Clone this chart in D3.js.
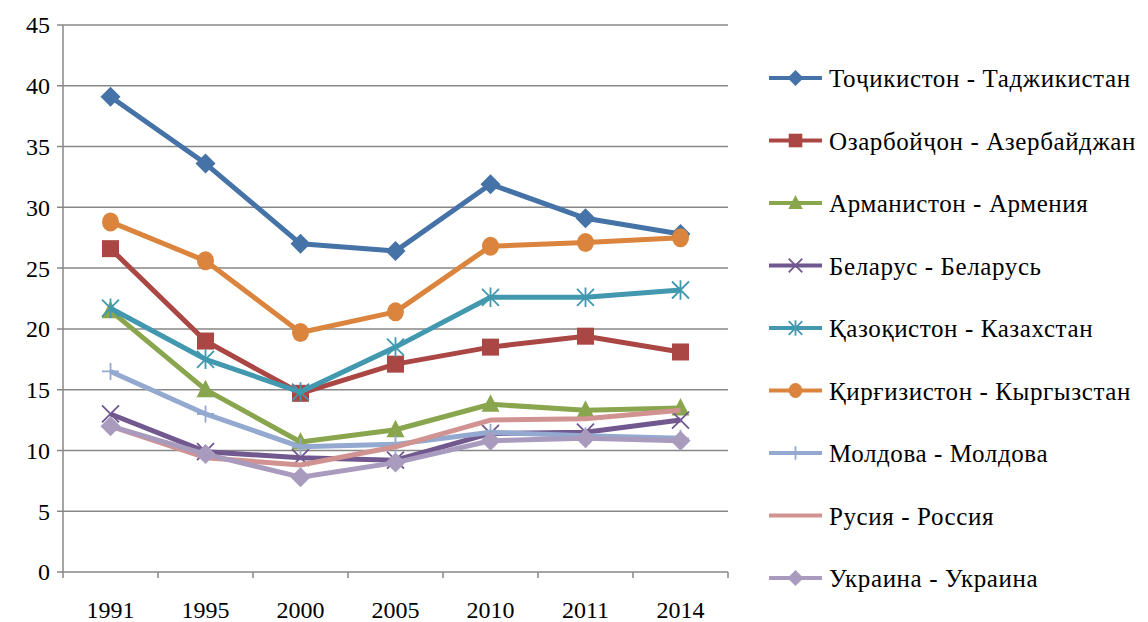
<!DOCTYPE html>
<html>
<head>
<meta charset="utf-8">
<script src="https://cdn.jsdelivr.net/npm/d3@7"></script>
<style>
  body { margin: 0; background: #fff; }
  svg text { font-family: "Liberation Serif", "Times New Roman", Times, "DejaVu Serif", serif; }
</style>
</head>
<body>
<svg id="chart" width="1148" height="622"></svg>
<script>
let years = ["1991", "1995", "2000", "2005", "2010", "2011", "2014"];
let yTicks = [0, 5, 10, 15, 20, 25, 30, 35, 40, 45];

let tajikistan = [39.1, 33.6, 27.0, 26.4, 31.9, 29.1, 27.8];
let azerbaijan = [26.6, 19.0, 14.7, 17.1, 18.5, 19.4, 18.1];
let armenia = [21.5, 15.0, 10.7, 11.7, 13.8, 13.3, 13.5];
let belarus = [13.0, 9.9, 9.4, 9.2, 11.4, 11.5, 12.5];
let kazakhstan = [21.7, 17.5, 14.8, 18.5, 22.6, 22.6, 23.2];
let kyrgyzstan = [28.8, 25.6, 19.7, 21.4, 26.8, 27.1, 27.5];
let moldova = [16.5, 13.0, 10.3, 10.5, 11.5, 11.2, 11.0];
let russia = [12.0, 9.4, 8.8, 10.3, 12.5, 12.6, 13.3];
let ukraine = [12.0, 9.7, 7.8, 9.0, 10.8, 11.0, 10.8];

let seriesNames = [
  "Тоҷикистон - Таджикистан",
  "Озарбойҷон - Азербайджан",
  "Арманистон - Армения",
  "Беларус - Беларусь",
  "Қазоқистон - Казахстан",
  "Қирғизистон - Кыргызстан",
  "Молдова - Молдова",
  "Русия - Россия",
  "Украина - Украина"
];
let seriesValues = [tajikistan, azerbaijan, armenia, belarus, kazakhstan, kyrgyzstan, moldova, russia, ukraine];
let seriesColors = ["#4572A7", "#AA4643", "#89A54E", "#71588F", "#4198AF", "#DB843D", "#93A9CF", "#D19392", "#A99BBD"];
let seriesMarkers = ["diamond", "square", "triangle", "x", "star", "circle", "plus", "none", "diamond"];

let svg = d3.select("#chart");
let plotLeft = 63, plotRight = 728, plotTop = 25, plotBottom = 572;

let x = d3.scaleBand().domain(years).range([plotLeft, plotRight]);
let y = d3.scaleLinear().domain([0, 45]).range([plotBottom, plotTop]);
let gridColor = "#878787";

// gridlines
svg.append("g")
  .selectAll("line")
  .data(yTicks)
  .join("line")
  .attr("x1", plotLeft - 6)
  .attr("x2", plotRight)
  .attr("y1", (d) => y(d))
  .attr("y2", (d) => y(d))
  .attr("stroke", gridColor)
  .attr("stroke-width", 1.5);

// y axis line
svg.append("line")
  .attr("x1", plotLeft).attr("x2", plotLeft)
  .attr("y1", plotTop).attr("y2", plotBottom)
  .attr("stroke", gridColor).attr("stroke-width", 1.5);

// x axis ticks at category borders
let borders = years.map((d) => x(d)).concat([plotRight]);
svg.append("g")
  .selectAll("line")
  .data(borders)
  .join("line")
  .attr("x1", (d) => d).attr("x2", (d) => d)
  .attr("y1", plotBottom).attr("y2", plotBottom + 6)
  .attr("stroke", gridColor).attr("stroke-width", 1.5);

// y labels
svg.append("g")
  .selectAll("text")
  .data(yTicks)
  .join("text")
  .attr("x", 50)
  .attr("y", (d) => y(d))
  .attr("dy", "0.35em")
  .attr("text-anchor", "end")
  .attr("font-size", 24)
  .text((d) => d);

// x labels
svg.append("g")
  .selectAll("text")
  .data(years)
  .join("text")
  .attr("x", (d) => x(d) + x.bandwidth() / 2)
  .attr("y", 618)
  .attr("text-anchor", "middle")
  .attr("font-size", 24)
  .text((d) => d);

let drawMarker = (g, type, color, cx, cy, s) => {
  if (type == "diamond") {
    g.append("path")
      .attr("d", `M${cx},${cy - s}L${cx + s},${cy}L${cx},${cy + s}L${cx - s},${cy}Z`)
      .attr("fill", color);
  } else if (type == "square") {
    g.append("rect")
      .attr("x", cx - s * 0.85).attr("y", cy - s * 0.85)
      .attr("width", s * 1.7).attr("height", s * 1.7)
      .attr("fill", color);
  } else if (type == "triangle") {
    g.append("path")
      .attr("d", `M${cx},${cy - s}L${cx + s * 0.9},${cy + s * 0.75}L${cx - s * 0.9},${cy + s * 0.75}Z`)
      .attr("fill", color);
  } else if (type == "circle") {
    g.append("ellipse")
      .attr("cx", cx).attr("cy", cy)
      .attr("rx", s * 0.85).attr("ry", s * 0.95)
      .attr("fill", color);
  } else if (type == "x") {
    let r = s * 0.85;
    g.append("path")
      .attr("d", `M${cx - r},${cy - r}L${cx + r},${cy + r}M${cx + r},${cy - r}L${cx - r},${cy + r}`)
      .attr("stroke", color).attr("stroke-width", 1.8);
  } else if (type == "star") {
    let r = s * 0.85;
    g.append("path")
      .attr("d", `M${cx - r},${cy - r}L${cx + r},${cy + r}M${cx + r},${cy - r}L${cx - r},${cy + r}M${cx},${cy - r * 1.15}L${cx},${cy + r * 1.15}`)
      .attr("stroke", color).attr("stroke-width", 1.8);
  } else if (type == "plus") {
    let r = s * 0.85;
    g.append("path")
      .attr("d", `M${cx - r},${cy}L${cx + r},${cy}M${cx},${cy - r}L${cx},${cy + r}`)
      .attr("stroke", color).attr("stroke-width", 1.8);
  }
};

let line = d3.line()
  .x((d, i) => x(years[i]) + x.bandwidth() / 2)
  .y((d) => y(d));

// series in order, later ones drawn over earlier ones
seriesValues.forEach((values, k) => {
  let g = svg.append("g");
  g.append("path")
    .datum(values)
    .attr("d", line)
    .attr("fill", "none")
    .attr("stroke", seriesColors[k])
    .attr("stroke-width", 5)
    .attr("stroke-linejoin", "round");
  values.forEach((v, i) => {
    drawMarker(g, seriesMarkers[k], seriesColors[k], x(years[i]) + x.bandwidth() / 2, y(v), 10);
  });
});

// legend
let legend = svg.append("g");
seriesNames.forEach((name, k) => {
  let ly = 78 + k * 62.5;
  let g = legend.append("g");
  g.append("line")
    .attr("x1", 769).attr("x2", 822)
    .attr("y1", ly).attr("y2", ly)
    .attr("stroke", seriesColors[k])
    .attr("stroke-width", 4);
  drawMarker(g, seriesMarkers[k], seriesColors[k], 795.5, ly, 8);
  g.append("text")
    .attr("x", 829)
    .attr("y", ly)
    .attr("dy", "0.36em")
    .attr("font-size", 25)
    .attr("letter-spacing", 0.6)
    .attr("fill", "#000")
    .text(name);
});
</script>
</body>
</html>
